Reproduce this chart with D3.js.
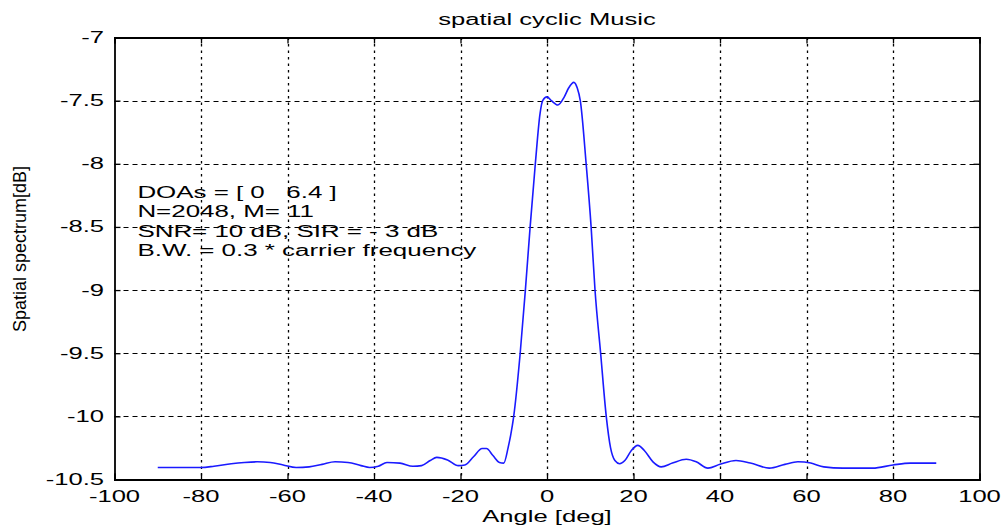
<!DOCTYPE html>
<html>
<head>
<meta charset="utf-8">
<script src="https://cdn.jsdelivr.net/npm/d3@7"></script>
<style>
  html, body { margin: 0; padding: 0; background: #ffffff; }
  svg { display: block; }
  text { font-family: "Liberation Sans", Arial, sans-serif; fill: #000; }
</style>
</head>
<body>
<svg id="chart" width="1002" height="529"></svg>
<script>
// ---- data ----
const angles = [-90, -85, -80, -77, -73, -70, -67, -64, -61, -58, -55, -52, -49, -46, -43, -41, -39, -37, -34, -31, -29, -27, -25.5, -23, -20.5, -19, -17, -15, -14, -12.5, -11, -10, -9, -8, -7.7, -6.2, -5, -3.9, -2.7, -1.6, -1, 0, 1, 2.5, 4, 5, 6.2, 7, 7.7, 9.05, 10.2, 11.1, 12.4, 13.7, 14.7, 15.7, 16.8, 18, 19.5, 21, 22.5, 24.5, 26.4, 29, 32.2, 34.5, 37.2, 40, 43.7, 47, 51.4, 55, 58, 61, 64, 68.4, 75.3, 80, 84, 90];
const spectrum = [-10.405, -10.405, -10.405, -10.395, -10.375, -10.365, -10.36, -10.365, -10.385, -10.405, -10.4, -10.38, -10.36, -10.365, -10.39, -10.405, -10.395, -10.365, -10.37, -10.395, -10.39, -10.35, -10.325, -10.345, -10.39, -10.385, -10.32, -10.255, -10.255, -10.31, -10.365, -10.37, -10.25, -10.07, -10.0, -9.5, -9.0, -8.5, -8.0, -7.6, -7.5, -7.47, -7.5, -7.535, -7.47, -7.4, -7.355, -7.4, -7.5, -8.0, -8.5, -9.0, -9.5, -10.0, -10.25, -10.35, -10.375, -10.35, -10.27, -10.23, -10.27, -10.36, -10.4, -10.37, -10.34, -10.36, -10.41, -10.38, -10.35, -10.37, -10.41, -10.38, -10.36, -10.37, -10.4, -10.41, -10.41, -10.385, -10.37, -10.37];
const xTicks = [-100, -80, -60, -40, -20, 0, 20, 40, 60, 80, 100];
const yTicks = [-10.5, -10, -9.5, -9, -8.5, -8, -7.5, -7];
const titleText = "spatial cyclic Music";
const xLabelText = "Angle [deg]";
const yLabelText = "Spatial spectrum[dB]";
const noteLines = ["DOAs = [ 0   6.4 ]", "N=2048, M= 11", "SNR= 10 dB, SIR = - 3 dB", "B.W. = 0.3 * carrier frequency"];

// ---- layout ----
const svg = d3.select("#chart");
const X0 = 114.5, X1 = 979.5, Y0 = 37.5, Y1 = 479.5;
const x = d3.scaleLinear().domain([-100, 100]).range([X0, X1]);
const y = d3.scaleLinear().domain([-10.5, -7]).range([Y1, Y0]);

function stretchedText(g, tx, ty, str, size, anchor, sx, rot) {
  return g.append("text")
    .attr("transform", `translate(${tx},${ty}) scale(${sx},1)` + (rot ? ` rotate(${rot})` : ""))
    .attr("text-anchor", anchor)
    .attr("font-size", size)
    .attr("xml:space", "preserve")
    .style("white-space", "pre")
    .text(str);
}

// grid
const grid = svg.append("g");
grid.selectAll("line.vg").data(xTicks.slice(1, -1)).join("line")
  .attr("x1", d => Math.round(x(d)) + 0.5).attr("x2", d => Math.round(x(d)) + 0.5)
  .attr("y1", Y0).attr("y2", Y1)
  .attr("stroke", "#000").attr("stroke-width", 1.3).attr("stroke-dasharray", "2.5,4");
grid.selectAll("line.hg").data(yTicks.slice(1, -1)).join("line")
  .attr("x1", X0).attr("x2", X1)
  .attr("y1", d => Math.round(y(d)) + 0.5).attr("y2", d => Math.round(y(d)) + 0.5)
  .attr("stroke", "#000").attr("stroke-width", 1.2).attr("stroke-dasharray", "5,4");

// axes with inward ticks
const axB = d3.axisBottom(x).tickValues(xTicks).tickSize(-6).tickFormat("");
const axT = d3.axisTop(x).tickValues(xTicks).tickSize(-6).tickFormat("");
const axL = d3.axisLeft(y).tickValues(yTicks).tickSize(-6).tickFormat("");
const axR = d3.axisRight(y).tickValues(yTicks).tickSize(-6).tickFormat("");
[[axB, `translate(0,${Y1})`], [axT, `translate(0,${Y0})`], [axL, `translate(${X0},0)`], [axR, `translate(${X1},0)`]].forEach(([ax, tr]) => {
  const g = svg.append("g").attr("transform", tr).call(ax);
  g.select(".domain").attr("stroke", "#000").attr("stroke-width", 1.8);
  g.selectAll(".tick line").attr("stroke", "#000").attr("stroke-width", 1.3);
});

// tick labels
const labels = svg.append("g");
xTicks.forEach(v => stretchedText(labels, x(v), 502, String(v), 16, "middle", 1.6));
yTicks.forEach(v => stretchedText(labels, 104, y(v) + 5.5, String(v), 16, "end", 1.6));

// curve
const pts = angles.map((a, i) => [a, spectrum[i]]);
svg.append("path")
  .datum(pts)
  .attr("fill", "none")
  .attr("stroke", "#1a1aff")
  .attr("stroke-width", 1.6)
  .attr("d", d3.line().x(d => x(d[0])).y(d => y(d[1])).curve(d3.curveMonotoneX));

// annotation text
noteLines.forEach((s, i) => stretchedText(svg, x(-94.7), y(-7) + 160 + i * 19.5, s, 16, "start", 1.62));

// title and axis labels
stretchedText(svg, (X0 + X1) / 2, 25, titleText, 16, "middle", 1.6);
stretchedText(svg, (X0 + X1) / 2, 522, xLabelText, 16, "middle", 1.6);
stretchedText(svg, 26, 249, yLabelText, 18, "middle", 1.0, -90);
</script>
</body>
</html>
